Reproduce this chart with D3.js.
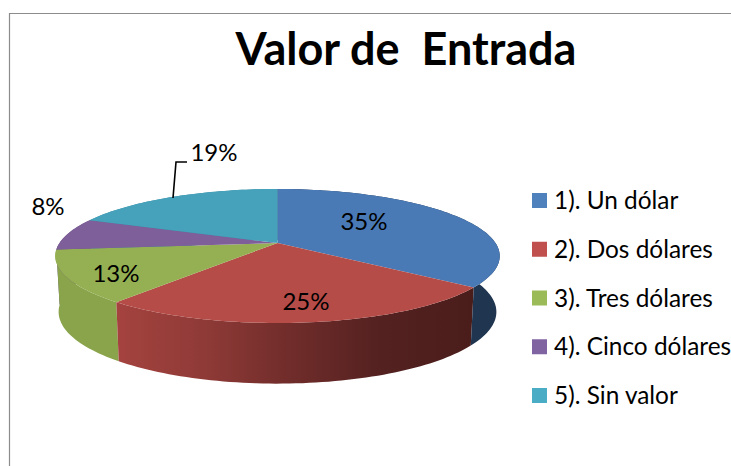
<!DOCTYPE html>
<html>
<head>
<meta charset="utf-8">
<script src="https://cdn.jsdelivr.net/npm/d3@7"></script>
<style>
  html, body { margin: 0; padding: 0; background: #fff; overflow: hidden; }
  text { font-family: Lato, "Open Sans", sans-serif; fill: #000; }
</style>
</head>
<body>
<div id="chart"></div>
<script>
const categories = ['1). Un dólar', '2). Dos dólares', '3). Tres dólares', '4). Cinco dólares', '5). Sin valor']
// the printed labels are these rounded
const values = [35.4, 25.4, 12.6, 7.8, 18.8]
const legendColors = ['#4f81bd', '#c0504d', '#9bbb59', '#8064a2', '#4bacc6']
const topColors = ['#4a7ab5', '#b54c48', '#95b052', '#7e5f9a', '#46a2bb']

const width = 731, height = 466

// pie geometry, tilted with a bit of perspective like the Excel 3D pie
const cx = 277.5, cy = 243
const radiusX = 218, radiusY = 64.5, persp = 0.194
// the lower rim is a little narrower and drops a little more at the front
const depth = 55, depthFront = 0.07, rimTaper = 0.985

// label anchors, same order as values
const labelAt = [[364, 222], [306, 302], [116, 274], [48, 207], [214, 153]]

const svg = d3.select('#chart').append('svg')
  .attr('width', width)
  .attr('height', height)

// frame
svg.append('path')
  .attr('d', `M9.5,${height}V13.5H${width}`)
  .attr('fill', 'none')
  .attr('stroke', '#8c8c8c')
  .attr('stroke-width', 1.2)

svg.append('text')
  .attr('x', 406)
  .attr('y', 65)
  .attr('text-anchor', 'middle')
  .attr('font-size', 45)
  .attr('font-weight', 700)
  .style('white-space', 'pre')
  .text('Valor de  Entrada')

// angle 0 is the back of the pie, the front comes closer so it gets bigger
const project = a => {
  const u = Math.sin(a), v = -Math.cos(a)
  const s = 1 / (1 - persp * v)
  return [cx + radiusX * u * s, cy + radiusY * v * s]
}

const arcs = d3.pie().sort(null)(values)
const line = d3.line()

const arcPoints = d => {
  const n = Math.ceil((d.endAngle - d.startAngle) * 40)
  return d3.range(n + 1).map(i => project(d.startAngle + (d.endAngle - d.startAngle) * i / n))
}

const lowerRim = p => [
  cx + (p[0] - cx) * rimTaper,
  p[1] + depth + depthFront * (p[1] - cy)
]

// shading of the wall runs left to right
const defs = svg.append('defs')
const redWall = defs.append('linearGradient')
  .attr('id', 'redWall')
  .attr('gradientUnits', 'userSpaceOnUse')
  .attr('x1', 115).attr('x2', 472).attr('y1', 0).attr('y2', 0)
redWall.selectAll('stop')
  .data([[0, '#a5433f'], [0.25, '#8f3a37'], [0.5, '#6f2c2a'], [0.75, '#532120'], [1, '#4a1d1b']])
  .join('stop')
  .attr('offset', d => d[0])
  .attr('stop-color', d => d[1])

const wallFill = ['#1f3550', 'url(#redWall)', '#8aa44c', '#6a5080', '#3a8aa0']

// walls first, back slices before front ones, the top faces cover the rest
svg.append('g').selectAll('path')
  .data(arcs.slice().reverse())
  .join('path')
  .attr('d', d => {
    const pts = arcPoints(d)
    return line(pts.concat(pts.map(lowerRim).reverse())) + 'Z'
  })
  .attr('fill', d => wallFill[d.index])

svg.append('g').selectAll('path')
  .data(arcs)
  .join('path')
  .attr('d', d => line([[cx, cy]].concat(arcPoints(d))) + 'Z')
  .attr('fill', d => topColors[d.index])

// leader line for the 19% label
svg.append('path')
  .attr('d', 'M173,198L176,162H187')
  .attr('fill', 'none')
  .attr('stroke', '#000')
  .attr('stroke-width', 1.6)

svg.append('g').selectAll('text')
  .data(values)
  .join('text')
  .attr('x', (d, i) => labelAt[i][0])
  .attr('y', (d, i) => labelAt[i][1])
  .attr('dy', '0.35em')
  .attr('text-anchor', 'middle')
  .attr('font-size', 24)
  .text(d => Math.round(d) + '%')

// legend
const legendY = d3.scalePoint().domain(categories).range([200.5, 395.5])

const legend = svg.append('g').selectAll('g')
  .data(categories)
  .join('g')
  .attr('transform', d => `translate(532,${legendY(d)})`)

legend.append('rect')
  .attr('y', -7.5)
  .attr('width', 15)
  .attr('height', 15)
  .attr('fill', (d, i) => legendColors[i])

legend.append('text')
  .attr('x', 22)
  .attr('dy', '0.35em')
  .attr('font-size', 24.4)
  .text(d => d)
</script>
</body>
</html>
